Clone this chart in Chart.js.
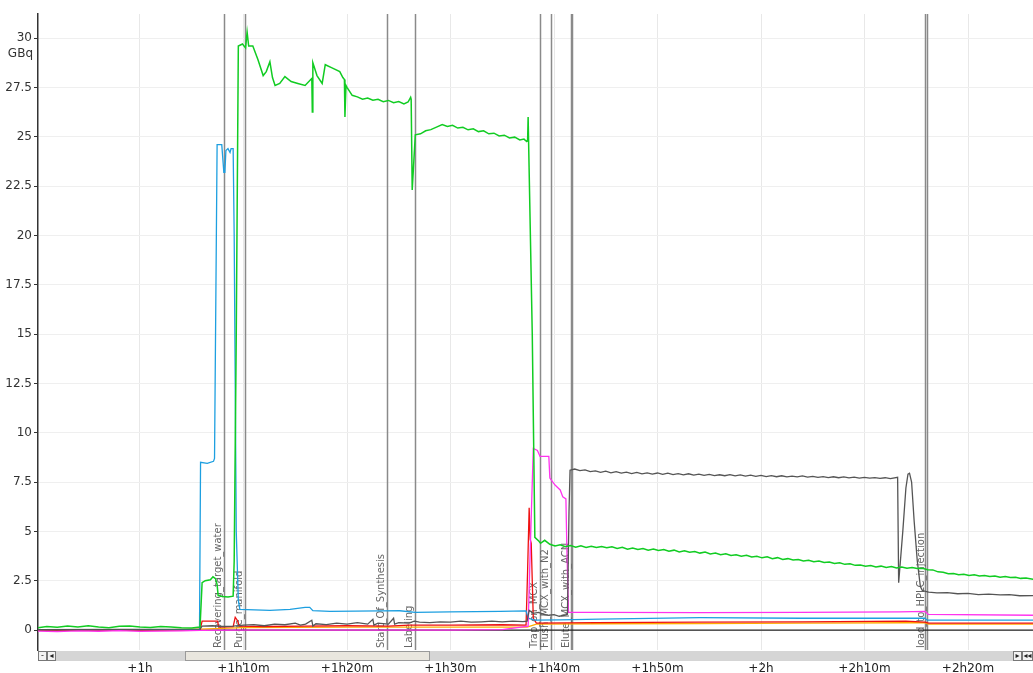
<!DOCTYPE html>
<html>
<head>
<meta charset="utf-8">
<script src="https://cdn.jsdelivr.net/npm/chart.js@4/dist/chart.umd.min.js"></script>
<style>
  html, body { margin: 0; padding: 0; background: #fff; overflow: hidden; }
  #wrap { width: 1033px; height: 673px; position: relative; }
</style>
</head>
<body>
<div id="wrap"><canvas id="c"></canvas></div>
<script>
// Activity traces (GBq) against run time in minutes.
const greenTimes = [50.15,51,52,53,54,55,56,57,58,59,60,61,62,63,64,65,65.8,66.0,66.3,66.8,67.05,67.3,67.45,67.55,68.0,68.5,69.0,69.1,69.3,69.5,69.9,70.2,70.35,70.5,70.9,71.4,71.9,72.2,72.55,72.8,73.05,73.5,74.0,74.6,75.25,75.95,76.5,76.6,76.65,76.7,77.1,77.6,77.9,78.5,79.3,79.6,79.75,79.8,79.9,80.0,80.5,81.0,81.5,82.0,82.5,83.0,83.5,84.0,84.5,85.0,85.5,85.9,86.15,86.2,86.3,86.6,87.1,87.6,88.1,88.7,89.2,89.7,90.2,90.7,91.2,91.7,92.2,92.7,93.2,93.7,94.2,94.7,95.2,95.7,96.2,96.7,97.1,97.35,97.4,97.45,97.5,97.9,98.15,98.55,98.7,99.1,99.6,100.1,100.6,101.1,101.6,102.1,102.6,103.1,103.6,104.1,104.6,105.1,105.6,106.1,106.6,107.1,107.6,108.1,108.6,109.1,109.6,110.1,110.6,111.1,111.6,112.1,112.6,113.1,113.6,114.1,114.6,115.1,115.6,116.1,116.6,117.1,117.6,118.1,118.6,119.1,119.6,120.1,120.6,121.1,121.6,122.1,122.6,123.1,123.6,124.1,124.6,125.1,125.6,126.1,126.6,127.1,127.6,128.1,128.6,129.1,129.6,130.1,130.6,131.1,131.6,132.1,132.6,133.1,133.6,134.1,134.6,135.1,135.6,136.1,136.6,137.1,137.6,138.1,138.6,139.1,139.6,140.1,140.6,141.1,141.6,142.1,142.6,143.1,143.6,144.1,144.6,145.1,145.6,146.3];
const greenValues = [0.12,0.18,0.14,0.2,0.15,0.22,0.16,0.12,0.19,0.2,0.15,0.13,0.18,0.16,0.12,0.1,0.15,2.4,2.5,2.55,2.7,2.6,2.3,1.75,1.7,1.68,1.72,3.5,15,29.6,29.7,29.5,30.3,29.6,29.6,28.9,28.1,28.3,28.8,28.0,27.6,27.7,28.05,27.8,27.7,27.6,27.9,27.95,26.25,28.75,28.1,27.7,28.65,28.5,28.3,28.0,27.9,26.0,27.6,27.5,27.1,27.02,26.9,26.96,26.85,26.9,26.78,26.84,26.72,26.78,26.66,26.76,27.0,26.9,22.3,25.1,25.15,25.3,25.36,25.5,25.62,25.52,25.58,25.44,25.48,25.35,25.4,25.26,25.3,25.15,25.18,25.04,25.08,24.94,24.98,24.84,24.88,24.76,24.8,24.78,26.0,15,4.7,4.5,4.4,4.55,4.35,4.26,4.32,4.22,4.28,4.2,4.27,4.19,4.25,4.18,4.24,4.17,4.22,4.14,4.19,4.1,4.16,4.08,4.13,4.05,4.11,4.03,4.08,3.99,4.05,3.96,4.02,3.94,3.98,3.9,3.95,3.86,3.9,3.82,3.87,3.78,3.82,3.74,3.79,3.7,3.74,3.66,3.71,3.62,3.67,3.58,3.62,3.55,3.58,3.5,3.54,3.46,3.5,3.42,3.45,3.37,3.41,3.33,3.36,3.28,3.3,3.23,3.27,3.2,3.24,3.17,3.22,3.15,3.19,3.13,3.17,3.12,3.13,3.06,3.05,2.95,2.93,2.86,2.87,2.8,2.83,2.77,2.8,2.74,2.77,2.71,2.74,2.68,2.71,2.66,2.68,2.62,2.64,2.57,2.58,2.54];

const blueTimes = [50.15,55,60,65.75,65.85,66.5,67.1,67.2,67.45,67.9,68.1,68.2,68.3,68.5,68.7,68.8,69.0,69.1,69.3,69.5,69.65,72.55,74.5,75.95,76.4,76.7,78.35,83.2,85.1,86.6,89.95,94.8,97.3,97.5,98.15,100.6,104.4,114.1,123.8,135.85,136.05,146.3];
const blueValues = [0.02,0.02,0.02,0.02,8.5,8.45,8.55,8.7,24.6,24.6,23.2,23.2,24.3,24.4,24.2,24.4,24.4,20,5,1.5,1.05,1.0,1.05,1.15,1.15,0.98,0.95,0.97,0.98,0.9,0.92,0.95,0.97,0.6,0.5,0.52,0.55,0.63,0.6,0.6,0.5,0.5];

const magentaTimes = [50.15,52,54,56,58,60,62,64,65.8,70,75,80,85,90,95,97.5,97.7,98.0,98.4,98.65,99.5,99.6,100.1,100.4,100.6,100.85,101.15,101.25,101.4,104.4,114.1,123.8,133.4,135.85,136.15,146.3];
const magentaValues = [-0.05,-0.08,-0.04,-0.06,-0.03,-0.07,-0.05,-0.04,-0.02,0,0,0,0,0,0.02,0.2,4.0,9.2,9.1,8.8,8.8,7.7,7.35,7.2,7.1,6.75,6.65,4.0,0.9,0.9,0.88,0.9,0.92,0.95,0.8,0.75];

const grayTimes = [50.15,65.8,66.0,67,68,69,70,71,72,73,74,75,75.5,76,76.6,76.7,77,78,79,80,81,82,82.5,82.6,83,84,84.5,84.6,85,86,86.5,87,88,89,90,91,92,93,94,95,96,97,97.4,97.6,98,98.5,99,99.5,100,100.5,101,101.3,101.45,101.55,102.0,102.5,103.0,103.5,104.0,104.5,105.0,105.5,106.0,106.5,107.0,107.5,108.0,108.5,109.0,109.5,110.0,110.5,111.0,111.5,112.0,112.5,113.0,113.5,114.0,114.5,115.0,115.5,116.0,116.5,117.0,117.5,118.0,118.5,119.0,119.5,120.0,120.5,121.0,121.5,122.0,122.5,123.0,123.5,124.0,124.5,125.0,125.5,126.0,126.5,127.0,127.5,128.0,128.5,129.0,129.5,130.0,130.5,131.0,131.5,132.0,132.5,133.2,133.3,133.7,134.0,134.2,134.35,134.55,134.8,135.1,135.4,135.6,136.2,137,138,139,140,141,142,143.1,144,145,146.3];
const grayValues = [0.02,0.05,0.2,0.22,0.18,0.2,0.25,0.28,0.22,0.3,0.27,0.35,0.25,0.3,0.5,0.2,0.32,0.28,0.35,0.3,0.38,0.3,0.55,0.25,0.35,0.3,0.6,0.3,0.38,0.35,0.45,0.4,0.38,0.42,0.4,0.45,0.4,0.42,0.45,0.42,0.45,0.43,0.45,1.0,0.85,0.9,0.8,0.75,0.78,0.7,0.75,0.8,6.0,8.1,8.16,8.08,8.12,8.03,8.07,7.99,8.05,7.97,8.03,7.95,8.0,7.93,7.99,7.92,7.97,7.9,7.96,7.89,7.95,7.88,7.93,7.87,7.92,7.85,7.9,7.84,7.89,7.83,7.87,7.82,7.88,7.81,7.86,7.8,7.85,7.79,7.84,7.78,7.83,7.77,7.82,7.76,7.8,7.76,7.81,7.75,7.79,7.74,7.78,7.73,7.77,7.72,7.76,7.71,7.75,7.7,7.74,7.7,7.73,7.69,7.72,7.68,7.74,2.4,5.0,7.2,7.9,7.95,7.5,5.5,3.5,2.2,2.0,1.92,1.88,1.9,1.84,1.86,1.8,1.82,1.78,1.8,1.74,1.75];

const redTimes = [50.15,60,65.8,66.0,67.5,67.6,69.0,69.2,69.4,69.6,72,76,80,84,86,90,95,97.3,97.45,97.6,97.7,97.8,98.0,98.3,104,114,124,134,135.85,136.2,146.3];
const redValues = [-0.02,-0.02,0.0,0.45,0.45,0.15,0.18,0.65,0.5,0.2,0.18,0.2,0.22,0.2,0.25,0.25,0.27,0.25,3.0,6.2,4.6,4.4,0.6,0.35,0.38,0.4,0.42,0.45,0.4,0.35,0.35];

const orangeTimes = [50.15,60,65.8,70,80,90,97.4,98.3,104,114,124,134,135.85,136.2,146.3];
const orangeValues = [-0.01,-0.01,0.05,0.12,0.15,0.15,0.15,0.3,0.32,0.33,0.35,0.37,0.37,0.3,0.3];

const blackTimes = [65.8,97.5,146.3];
const blackValues = [0,0,0];

// Process step markers (minutes) and their names.
const eventTimes = [68.1,70.15,83.85,86.6,98.6,99.7,101.6,101.75,135.85,136.05];
const eventLabels = ['Recovering_target_water','Purge_manifold','Start_Of_Synthesis','Labeling','Trap_on_MCX','Flush_MCX_with_N2','','Elute_MCX_with_ACN','','load_to_HPLC_injection'];

// Axis ticks.
const xTickMinutes = [60,70,80,90,100,110,120,130,140];
const yTickValues = [0,2.5,5,7.5,10,12.5,15,17.5,20,22.5,25,27.5,30];

const FONT = '"DejaVu Sans", Verdana, sans-serif';

function pts(t, v) { return t.map((x, i) => ({ x: x, y: v[i] })); }

function fmtMinutes(m) {
  const h = Math.floor(m / 60), r = Math.round(m - h * 60);
  return '+' + h + 'h' + (r ? r + 'm' : '');
}

const series = [
  { t: greenTimes, v: greenValues, c: '#11cc22', w: 1.5 },
  { t: grayTimes, v: grayValues, c: '#555555', w: 1.3 },
  { t: magentaTimes, v: magentaValues, c: '#ff33ee', w: 1.3 },
  { t: blueTimes, v: blueValues, c: '#1d9fe0', w: 1.3 },
  { t: redTimes, v: redValues, c: '#ee1111', w: 1.3 },
  { t: orangeTimes, v: orangeValues, c: '#ffaa00', w: 1.3 },
  { t: blackTimes, v: blackValues, c: '#222222', w: 1.3 }
];

const datasets = series.map(s => ({
  data: pts(s.t, s.v),
  borderColor: s.c,
  borderWidth: s.w,
  pointRadius: 0,
  tension: 0,
  fill: false
}));

const overlay = {
  id: 'overlay',
  beforeDatasetsDraw(chart) {
    const { ctx, chartArea, scales } = chart;
    ctx.save();
    // step markers
    eventTimes.forEach((t, i) => {
      const x = Math.round(scales.x.getPixelForValue(t)) + 0.5;
      ctx.strokeStyle = '#8a8a8a';
      ctx.lineWidth = 1.5;
      ctx.beginPath();
      ctx.moveTo(x, chartArea.top);
      ctx.lineTo(x, chartArea.bottom);
      ctx.stroke();
      if (eventLabels[i]) {
        ctx.save();
        ctx.translate(x - 1, chartArea.bottom - 2);
        ctx.rotate(-Math.PI / 2);
        ctx.fillStyle = '#666';
        ctx.font = '10px ' + FONT;
        ctx.textAlign = 'left';
        ctx.textBaseline = 'bottom';
        ctx.fillText(eventLabels[i], 0, 0);
        ctx.restore();
      }
    });
    ctx.restore();
  },
  afterDraw(chart) {
    const { ctx, chartArea, scales } = chart;
    ctx.save();
    // unit caption
    ctx.fillStyle = '#333';
    ctx.font = '12px ' + FONT;
    ctx.textAlign = 'right';
    ctx.textBaseline = 'middle';
    ctx.fillText('GBq', 33, 54);

    // scroll bar under the plot
    const top = chartArea.bottom + 1, h = 10;
    const left = chartArea.left, right = chartArea.right;
    ctx.fillStyle = '#d5d5d5';
    ctx.fillRect(left, top, right - left, h);
    // thumb
    ctx.fillStyle = '#e9e6de';
    ctx.fillRect(185, top, 245, h);
    ctx.strokeStyle = '#9a9a9a';
    ctx.lineWidth = 1;
    ctx.strokeRect(185.5, top + 0.5, 244, h - 1);
    // buttons
    const btn = (x, w, glyph) => {
      ctx.fillStyle = '#f2f2f2';
      ctx.fillRect(x, top, w, h);
      ctx.strokeStyle = '#777';
      ctx.strokeRect(x + 0.5, top + 0.5, w - 1, h - 1);
      ctx.fillStyle = '#222';
      ctx.font = '8px ' + FONT;
      ctx.textAlign = 'center';
      ctx.textBaseline = 'middle';
      ctx.fillText(glyph, x + w / 2, top + h / 2);
    };
    btn(left, 9, '-');
    btn(left + 9, 9, '\u25C2');
    btn(1013, 9, '\u25B8');
    btn(1022, 11, '\u25C2\u25C2');

    // small tick marks over the time labels
    ctx.strokeStyle = '#555';
    xTickMinutes.forEach(m => {
      const x = Math.round(scales.x.getPixelForValue(m)) + 0.5;
      ctx.beginPath();
      ctx.moveTo(x, top + h + 1);
      ctx.lineTo(x, top + h + 4);
      ctx.stroke();
    });
    ctx.restore();
  }
};

new Chart(document.getElementById('c'), {
  type: 'line',
  data: { datasets: datasets },
  options: {
    responsive: true,
    maintainAspectRatio: false,
    animation: false,
    events: [],
    layout: { padding: { top: 14, left: 0, right: 0, bottom: 0 } },
    plugins: { legend: { display: false }, tooltip: { enabled: false } },
    scales: {
      x: {
        type: 'linear',
        min: 50.145,
        max: 146.28,
        afterBuildTicks(s) { s.ticks = xTickMinutes.map(v => ({ value: v })); },
        afterFit(s) { s.height = 23; },
        ticks: {
          callback: v => fmtMinutes(v),
          color: '#222',
          font: { family: FONT, size: 12 },
          padding: 12,
          maxRotation: 0,
          autoSkip: false
        },
        grid: { color: '#e8e8e8', drawTicks: false },
        border: { display: false }
      },
      y: {
        type: 'linear',
        min: -1.01,
        max: 31.22,
        afterBuildTicks(s) { s.ticks = yTickValues.map(v => ({ value: v })); },
        afterFit(s) { s.width = 38; },
        ticks: {
          color: '#333',
          font: { family: FONT, size: 12 },
          padding: 2,
          autoSkip: false
        },
        grid: { color: '#efefef', tickColor: '#333', tickLength: 4 },
        border: { color: '#333', width: 1.5 }
      }
    }
  },
  plugins: [overlay]
});
</script>
</body>
</html>
